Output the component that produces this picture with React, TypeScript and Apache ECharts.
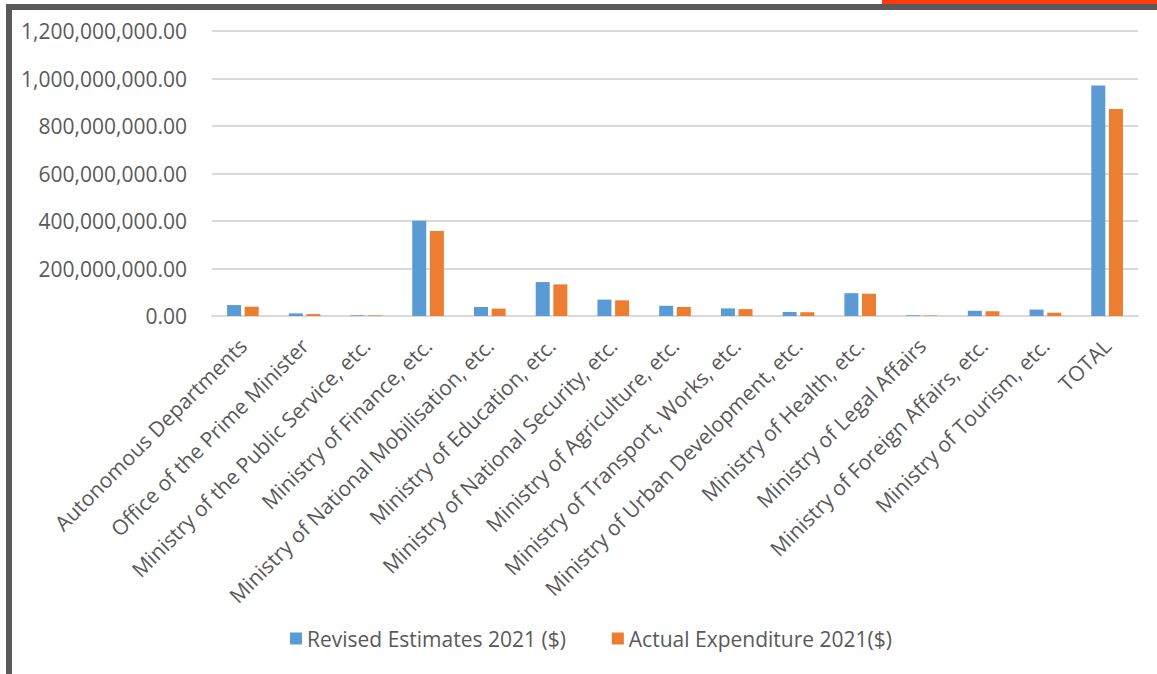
import React, { useEffect, useRef } from "react";
import * as echarts from "echarts";

const categories = [
  "Autonomous Departments",
  "Office of the Prime Minister",
  "Ministry of the Public Service, etc.",
  "Ministry of Finance, etc.",
  "Ministry of National Mobilisation, etc.",
  "Ministry of Education, etc.",
  "Ministry of National Security, etc.",
  "Ministry of Agriculture, etc.",
  "Ministry of Transport, Works, etc.",
  "Ministry of Urban Development, etc.",
  "Ministry of Health, etc.",
  "Ministry of Legal Affairs",
  "Ministry of Foreign Affairs, etc.",
  "Ministry of Tourism, etc.",
  "TOTAL",
];

const revisedEstimates = [
  46000000, 11000000, 3000000, 401000000, 38000000, 143000000, 69000000,
  43000000, 32000000, 17000000, 96000000, 3000000, 22000000, 27000000,
  971000000,
];

const actualExpenditure = [
  39000000, 8000000, 2500000, 358000000, 31000000, 133000000, 66000000,
  38000000, 29000000, 16000000, 94000000, 2000000, 20000000, 14000000,
  872000000,
];

const seriesNames = ["Revised Estimates 2021 ($)", "Actual Expenditure 2021($)"];

const fmt = (v: number) =>
  Number(v).toLocaleString("en-US", {
    minimumFractionDigits: 2,
    maximumFractionDigits: 2,
  });

export default function App() {
  const ref = useRef<HTMLDivElement>(null);
  useEffect(() => {
    document.body.style.margin = "0";
    const chart = echarts.init(ref.current!, null, { renderer: "svg" });
    const font = "'Open Sans', sans-serif";
    const textColor = "#595959";
    chart.setOption({
      animation: false,
      backgroundColor: "#ffffff",
      textStyle: { fontFamily: font, color: textColor },
      grid: { left: 212, right: 19, top: 31, bottom: 358 },
      legend: {
        left: 285,
        top: 623,
        itemWidth: 12,
        itemHeight: 12,
        itemGap: 46,
        icon: "rect",
        textStyle: { fontFamily: font, fontSize: 21, color: textColor },
        data: seriesNames,
      },
      xAxis: {
        type: "category",
        data: categories,
        axisLine: { lineStyle: { color: "#d9d9d9", width: 2 } },
        axisTick: { show: false },
        axisLabel: {
          rotate: 45,
          interval: 0,
          margin: 26,
          fontFamily: font,
          fontSize: 21,
          color: textColor,
        },
      },
      yAxis: {
        type: "value",
        min: 0,
        max: 1200000000,
        interval: 200000000,
        axisLine: { show: false },
        axisTick: { show: false },
        splitLine: { lineStyle: { color: "#d9d9d9", width: 2 } },
        axisLabel: {
          margin: 25,
          fontFamily: font,
          fontSize: 21,
          color: textColor,
          formatter: (v: number) => fmt(v),
        },
      },
      series: [
        {
          name: seriesNames[0],
          type: "bar",
          data: revisedEstimates,
          barWidth: 14,
          barGap: "26%",
          itemStyle: { color: "#5B9BD5" },
        },
        {
          name: seriesNames[1],
          type: "bar",
          data: actualExpenditure,
          barWidth: 14,
          barGap: "26%",
          itemStyle: { color: "#ED7D31" },
        },
      ],
      graphic: [
        {
          type: "rect",
          shape: { x: 6, y: 4, width: 6, height: 670 },
          style: { fill: "#595959" },
          silent: true,
        },
        {
          type: "rect",
          shape: { x: 6, y: 4, width: 1151, height: 6 },
          style: { fill: "#595959" },
          silent: true,
        },
        {
          type: "rect",
          shape: { x: 882, y: 0, width: 275, height: 4 },
          style: { fill: "#FF3A0A" },
          silent: true,
        },
      ],
    });
    return () => chart.dispose();
  }, []);
  return <div ref={ref} style={{ width: 1157, height: 674 }} />;
}
